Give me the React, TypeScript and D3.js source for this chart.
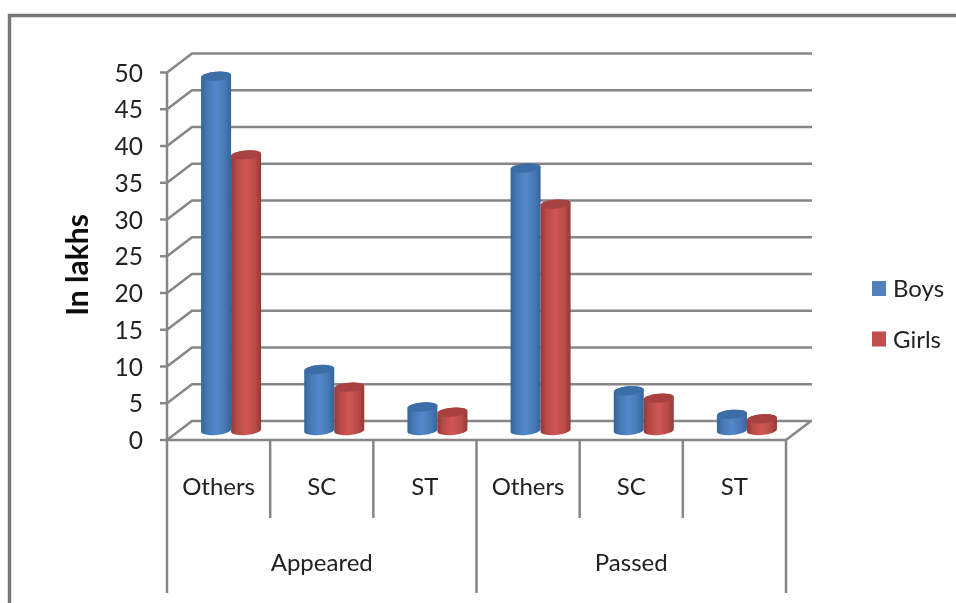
import React from "react";
import * as d3 from "d3";

const groups = ["Appeared", "Passed"];
const categories = ["Others", "SC", "ST", "Others", "SC", "ST"];
const boys = [48.2, 8.3, 3.2, 35.7, 5.4, 2.2];
const girls = [37.5, 5.9, 2.5, 30.8, 4.4, 1.6];
const yTicks = [0, 5, 10, 15, 20, 25, 30, 35, 40, 45, 50];
const seriesNames = ["Boys", "Girls"];

const width = 956;
const height = 603;
const font = "Lato, 'Open Sans', sans-serif";
const gridColor = "#868686";
const textColor = "#222";

// front plane of the fake 3d box, the back wall is shifted by depth
const left = 167;
const right = 786;
const depthX = 25;
const depthY = 19;

const yScale = d3.scaleLinear().domain([0, 50]).range([440, 72.5]);
const xScale = d3.scaleBand<number>().domain(d3.range(categories.length)).range([left, right]);
const barScale = d3.scaleBand<string>().domain(seriesNames).range([0, 60]);

const tilt = -5;

function cylinderPath(x: number, w: number, topY: number, bottomY: number) {
  const rx = w / 2;
  const ry = 4.5;
  const dy = Math.tan((tilt * Math.PI) / 180) * rx;
  return `M${x},${topY - dy} A${rx},${ry} ${tilt} 0 1 ${x + w},${topY + dy} L${x + w},${bottomY + dy} A${rx},${ry} ${tilt} 0 1 ${x},${bottomY - dy} Z`;
}

function Cylinder({ value, x, name }: { value: number; x: number; name: string }) {
  const w = barScale.bandwidth();
  const cx = x + depthX / 2;
  const topY = yScale(value) - depthY / 2;
  const bottomY = yScale(0) - depthY / 2;
  const rx = w / 2;
  return (
    <g>
      <path d={cylinderPath(cx, w, topY, bottomY)} fill={`url(#grad${name})`} />
      <ellipse
        cx={cx + rx}
        cy={topY}
        rx={rx}
        ry={4.5}
        transform={`rotate(${tilt} ${cx + rx} ${topY})`}
        fill={name === "Boys" ? "#3c6da6" : "#a8423f"}
      />
    </g>
  );
}

export default function App() {
  return (
    <svg width={width} height={height} style={{ position: "absolute", left: 0, top: 0 }} fontFamily={font}>
      <defs>
        <linearGradient id="gradBoys" x1="0" x2="1" y1="0" y2="0">
          <stop offset="0" stopColor="#34659c" />
          <stop offset="0.2" stopColor="#4778b4" />
          <stop offset="0.5" stopColor="#5389cb" />
          <stop offset="0.8" stopColor="#4778b4" />
          <stop offset="1" stopColor="#34659c" />
        </linearGradient>
        <linearGradient id="gradGirls" x1="0" x2="1" y1="0" y2="0">
          <stop offset="0" stopColor="#933836" />
          <stop offset="0.2" stopColor="#b84b48" />
          <stop offset="0.5" stopColor="#cf5754" />
          <stop offset="0.8" stopColor="#b84b48" />
          <stop offset="1" stopColor="#933836" />
        </linearGradient>
        {/* the reference is a slightly soft screenshot */}
        <filter id="soft" filterUnits="userSpaceOnUse" x="0" y="0" width={width} height={height}>
          <feGaussianBlur stdDeviation="0.55" />
        </filter>
      </defs>

      <rect width={width} height={height} fill="#fff" />
      <g filter="url(#soft)">
        <path d={`M9.5,${height + 5} V15.5 H${width + 5}`} fill="none" stroke="#777" strokeWidth={3.4} />

        {/* gridlines, back wall and side wall */}
        {yTicks.map((t) => (
          <g key={t} stroke={gridColor} strokeWidth={2.5} fill="none">
            <path d={`M${left},${yScale(t)} L${left + depthX},${yScale(t) - depthY} H${right + depthX + 1}`} />
            <line x1={left - 7} x2={left} y1={yScale(t)} y2={yScale(t)} />
          </g>
        ))}
        <line x1={left} x2={left} y1={yScale(50)} y2={yScale(0)} stroke={gridColor} strokeWidth={2.5} />
        <line x1={left} x2={right} y1={yScale(0)} y2={yScale(0)} stroke={gridColor} strokeWidth={2.5} />
        <line x1={right} x2={right + depthX} y1={yScale(0)} y2={yScale(0) - depthY} stroke={gridColor} strokeWidth={2.5} />

        {yTicks.map((t) => (
          <text key={t} x={left - 24} y={yScale(t) + 9} textAnchor="end" fontSize={24.5} fill={textColor}>
            {t}
          </text>
        ))}

        {/* cylinders, boys first so girls overlap them */}
        {categories.map((_, i) => {
          const x0 = xScale(i)! + xScale.bandwidth() / 2 - barScale.bandwidth();
          return (
            <g key={i}>
              <Cylinder value={boys[i]} x={x0 + barScale("Boys")!} name="Boys" />
              <Cylinder value={girls[i]} x={x0 + barScale("Girls")!} name="Girls" />
            </g>
          );
        })}

        {/* multi level category axis */}
        {d3.range(categories.length + 1).map((i) => {
          const x = left + i * xScale.bandwidth();
          const isGroupEdge = i % 3 === 0;
          return (
            <line key={i} x1={x} x2={x} y1={yScale(0)} y2={isGroupEdge ? 593 : 518} stroke={gridColor} strokeWidth={2.5} />
          );
        })}
        {categories.map((c, i) => (
          <text key={i} x={xScale(i)! + xScale.bandwidth() / 2} y={495} textAnchor="middle" fontSize={24} fill={textColor}>
            {c}
          </text>
        ))}
        {groups.map((g, i) => (
          <text key={g} x={left + (i + 0.5) * 3 * xScale.bandwidth()} y={571} textAnchor="middle" fontSize={24} fill={textColor}>
            {g}
          </text>
        ))}

        <text
          transform="translate(88,265) rotate(-90)"
          textAnchor="middle"
          fontSize={30}
          fontWeight={700}
          fill="#111"
        >
          In lakhs
        </text>

        {/* legend */}
        {seriesNames.map((s, i) => (
          <g key={s}>
            <rect x={872} y={281 + i * 50.5} width={14} height={15} fill={s === "Boys" ? "#4f81bd" : "#c0504d"} />
            <text x={893} y={297 + i * 50.5} fontSize={24} fill={textColor}>
              {s}
            </text>
          </g>
        ))}
      </g>
    </svg>
  );
}
